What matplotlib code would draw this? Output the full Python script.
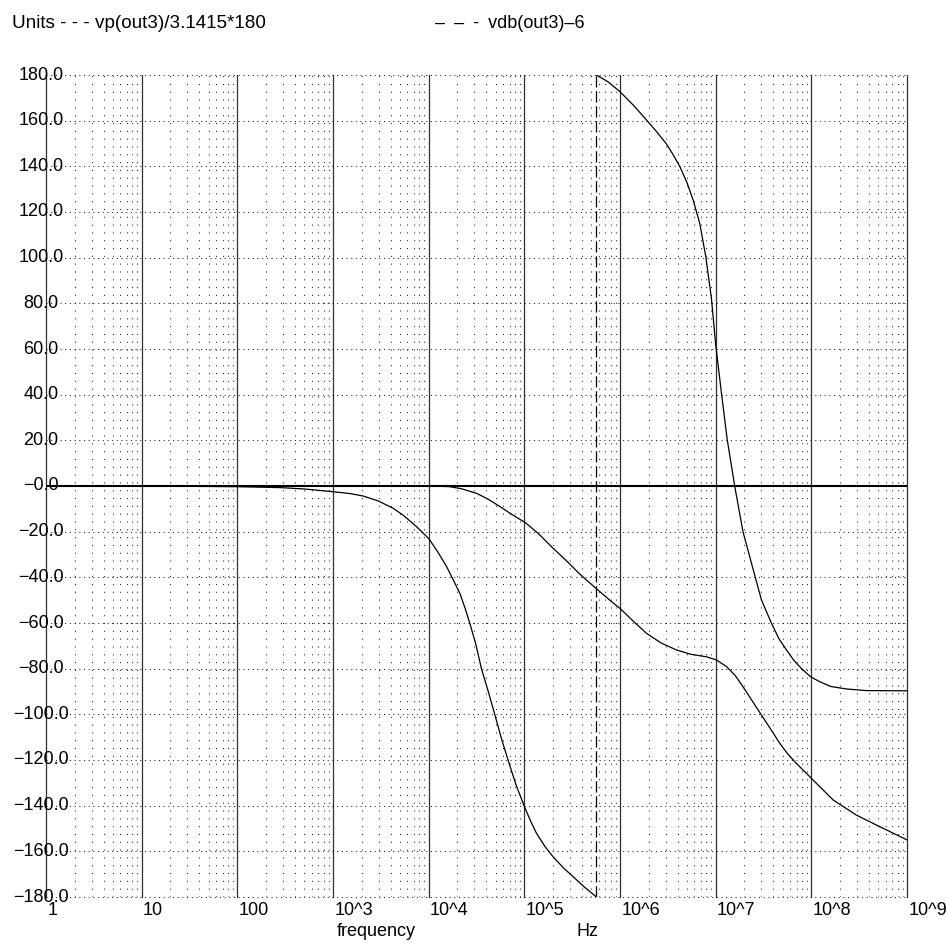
import matplotlib
matplotlib.use("Agg")
import matplotlib.pyplot as plt

plt.rcParams['font.family'] = ['Liberation Sans', 'DejaVu Sans']
plt.rcParams['font.size'] = 13

# phase vp(out3)/3.1415*180, part before the wrap at -180
vp_lo_f = [1, 10, 100, 280, 500, 1000, 1500, 2070, 3000, 4270, 5500, 7460, 8700,
           1.01e4, 1.25e4, 1.54e4, 1.8e4, 2.12e4, 2.4e4, 2.69e4, 3.1e4, 3.57e4,
           4.2e4, 4.92e4, 5.8e4, 6.78e4, 8.2e4, 1.02e5, 1.17e5, 1.34e5, 1.65e5,
           2.0e5, 2.6e5, 3.24e5, 4.2e5, 5.68e5]
vp_lo = [0, 0, -0.3, -0.7, -1.3, -2.5, -3.3, -4.4, -6.6, -9.8, -13.0, -17.8, -20.5,
         -23.2, -29.0, -35.3, -41.0, -47.0, -53.5, -60.1, -69.0, -80.2,
         -90.0, -100.2, -111.0, -120.2, -131.0, -141.2, -147.0, -152.1, -158.0,
         -162.4, -167.5, -171.1, -175.5, -180.0]

# phase after the wrap (starts again at +180)
vp_hi_f = [5.68e5, 7.5e5, 1.0e6, 1.4e6, 1.89e6, 2.4e6, 3.06e6, 3.6e6, 4.22e6,
           5.0e6, 5.81e6, 6.82e6, 7.89e6, 9.04e6, 1.0e7, 1.15e7, 1.32e7, 1.58e7,
           1.93e7, 2.37e7, 3.01e7, 3.83e7, 4.6e7, 5.5e7, 6.6e7, 7.87e7, 9.8e7,
           1.22e8, 1.6e8, 2.33e8, 3.77e8, 1.0e9]
vp_hi = [180.0, 177.0, 172.7, 166.5, 160.3, 155.3, 149.8, 145.0, 139.9,
         133.0, 125.3, 115.0, 100.4, 82.0, 62.0, 40.6, 20.4, 0.0,
         -20.0, -33.9, -49.9, -60.1, -67.0, -71.8, -76.5, -79.9, -83.5,
         -85.7, -87.8, -88.9, -89.6, -89.7]

# vdb(out3)-6
vdb_f = [1, 100, 1.0e4, 1.3e4, 1.66e4, 2.2e4, 3.16e4, 4.2e4, 5.55e4, 7.5e4,
         1.02e5, 1.4e5, 2.0e5, 2.8e5, 3.8e5, 5.5e5, 7.82e5, 1.0e6, 1.4e6,
         1.89e6, 2.7e6, 3.89e6, 5.5e6, 8.02e6, 1.02e7, 1.3e7, 1.6e7, 1.93e7,
         2.4e7, 3.01e7, 3.8e7, 4.68e7, 5.7e7, 6.98e7, 1.0e8, 1.69e8, 2.95e8,
         5.19e8, 1.0e9]
vdb = [0, 0, 0, -0.1, -0.3, -1.2, -3.2, -5.8, -9.0, -12.6,
       -16.0, -20.8, -27.3, -33.0, -38.6, -44.5, -50.0, -53.6, -59.5,
       -64.5, -68.8, -71.8, -73.7, -74.8, -76.2, -79.1, -83.0, -87.9,
       -94.0, -100.3, -106.8, -112.7, -117.5, -121.5, -128.0, -137.5, -144.1,
       -149.2, -155.0]

x_ticks = [1, 10, 100, 1e3, 1e4, 1e5, 1e6, 1e7, 1e8, 1e9]
x_labels = ['1', '10', '100', '10^3', '10^4', '10^5', '10^6', '10^7', '10^8', '10^9']
y_ticks = [180, 160, 140, 120, 100, 80, 60, 40, 20, 0,
           -20, -40, -60, -80, -100, -120, -140, -160, -180]
y_labels = ['180.0', '160.0', '140.0', '120.0', '100.0', '80.0', '60.0', '40.0', '20.0',
            '\u22120.0', '\u221220.0', '\u221240.0', '\u221260.0', '\u221280.0',
            '\u2212100.0', '\u2212120.0', '\u2212140.0', '\u2212160.0', '\u2212180.0']

W, H = 947, 943
fig = plt.figure(figsize=(W / 100, H / 100), dpi=100)
ax = fig.add_axes([46 / W, 1 - 897 / H, 861 / W, 822 / H])
ax.set_xscale('log')
ax.set_xlim(x_ticks[0], x_ticks[-1])
ax.set_ylim(y_ticks[-1], y_ticks[0])
for s in ax.spines.values():
    s.set_visible(False)
ax.set_xticks([])
ax.set_yticks([])
ax.minorticks_off()

# grid: solid decades, dotted minors, dotted horizontals
for d in x_ticks:
    ax.axvline(d, color='#303030', lw=0.9, clip_on=False, zorder=1)
    if d < x_ticks[-1]:
        for k in range(2, 10):
            ax.axvline(k * d, color='#222222', lw=0.75, ls=(0, (1, 6.5)), zorder=1)
for v in y_ticks:
    if v == 0:
        ax.axhline(v, color='black', lw=1.5, zorder=2)
    else:
        ax.axhline(v, color='#222222', lw=0.75, ls=(0, (1, 3.5)), clip_on=False, zorder=1)

# curves
ax.plot(vp_lo_f, vp_lo, color='black', lw=0.9, zorder=3)
ax.plot([vp_lo_f[-1], vp_hi_f[0]], [vp_lo[-1], vp_hi[0]], color='black', lw=0.9,
        ls=(0, (9, 3)), zorder=3)
ax.plot(vp_hi_f, vp_hi, color='black', lw=0.9, zorder=3)
ax.plot(vdb_f, vdb, color='black', lw=0.9, zorder=3)

# tick labels
for v, lbl in zip(y_ticks, y_labels):
    ax.annotate(lbl, (x_ticks[0], v), xytext=(-3.6, 0), textcoords='offset points',
                ha='center', va='center', annotation_clip=False)
for f, lbl in zip(x_ticks, x_labels):
    ax.annotate(lbl, (f, y_ticks[-1]), xytext=(1, -9.5), textcoords='offset points',
                ha='left', va='center', annotation_clip=False)

# header and axis names
fig.text(12 / W, 1 - 24 / H, 'Units - - - vp(out3)/3.1415*180', va='center', fontsize=13.6)
fig.text(435 / W, 1 - 24 / H, '\u2013\u2002\u2013\u2002-\u2002vdb(out3)\u20136', va='center')
fig.text(337 / W, 1 - 931 / H, 'frequency', va='center')
fig.text(576 / W, 1 - 931 / H, 'Hz', va='center')

fig.savefig('out.png', dpi=100)
